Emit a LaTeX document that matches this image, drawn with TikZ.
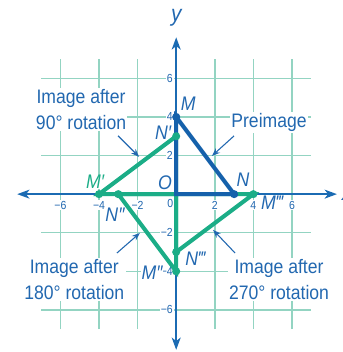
\documentclass[tikz,border=0pt]{standalone}
\usepackage{fontspec}
\usepackage{tikz}
\usetikzlibrary{arrows.meta}
\setmainfont{Liberation Sans}[FakeStretch=0.9]

\definecolor{gridgreen}{HTML}{93D4C2}
\definecolor{axisblue}{HTML}{1B6BB3}
\definecolor{preblue}{HTML}{1561AB}
\definecolor{imggreen}{HTML}{1BAD87}
\definecolor{textblue}{HTML}{2268B0}

\begin{document}
\begin{tikzpicture}[x=0.5cm,y=0.5cm,
    axis/.style={axisblue, line width=1.8pt, {Stealth[length=9pt,width=6.5pt,inset=2.5pt]}-{Stealth[length=9pt,width=6.5pt,inset=2.5pt]}},
    axlabel/.style={text=textblue, font=\fontsize{17}{20}\selectfont\itshape},
    tick/.style={text=textblue, fill=white, inner sep=0.6pt, font=\fontsize{8.6}{9}\selectfont},
    pre/.style={preblue, line width=3pt},
    img/.style={imggreen, line width=3pt},
    ptlabel/.style={text=textblue, fill=white, inner sep=0.3pt, font=\fontsize{14.5}{16}\selectfont\itshape},
    callout/.style={text=textblue, fill=white, align=center, inner sep=1pt, font=\fontsize{14.4}{19}\selectfont},
    pointer/.style={textblue, line width=0.8pt, -{Stealth[length=6pt,width=4.5pt]}}]
    \useasboundingbox (-9.13,-8.18) rectangle (8.64,10.06);

    \draw[gridgreen, line width=1.1pt] (-7,-7) grid (7,7);

    \node[callout] (rot90) at (-4.93,4.38) {Image after\\90° rotation};
    \node[callout] (pre) at (4.81,3.69) {Preimage};
    \node[callout] (rot180) at (-5.28,-4.42) {Image after\\180° rotation};
    \node[callout] (rot270) at (5.33,-4.42) {Image after\\270° rotation};

    \foreach \k/\t [count=\i] in {-6/−6,-4/−4,-2/−2,2/2,4/4,6/6} {
        \node[tick] (xtick\i) at (\k,-0.57) {\t};
        \node[tick, anchor=east] (ytick\i) at (-0.12,\k) {\t};
    }
    \node[tick] (xtick0) at (-0.3,-0.5) {0};

    \coordinate (O) at (0,0);
    \coordinate (M) at (0,4);
    \coordinate (N) at (3,0);
    \coordinate (Ma) at (-4,0);
    \coordinate (Na) at (0,3);
    \coordinate (Mb) at (0,-4);
    \coordinate (Nb) at (-3,0);
    \coordinate (Mc) at (4,0);
    \coordinate (Nc) at (0,-3);

    \node[ptlabel] (lM) at (0.63,4.67) {M};
    \node[ptlabel] (lNa) at (-0.68,3.17) {N′};
    \node[ptlabel] (lO) at (-0.58,0.58) {O};
    \node[ptlabel, text=imggreen] (lMa) at (-4.2,0.63) {M′};
    \node[ptlabel] (lNb) at (-3.17,-1.08) {N″};
    \node[ptlabel] (lN) at (3.46,0.74) {N};
    \node[ptlabel] (lMc) at (4.95,-0.45) {M‴};
    \node[ptlabel] (lNc) at (0.97,-3.36) {N‴};
    \node[ptlabel] (lMb) at (-1.25,-4.08) {M″};

    \coordinate (xmin) at (-8.24,0);
    \coordinate (xmax) at (8.33,0);
    \coordinate (ymin) at (0,-8.07);
    \coordinate (ymax) at (0,8.13);
    \draw[axis] (xmin) -- (xmax);
    \draw[axis] (ymin) -- (ymax);
    \node[axlabel] (xlab) at (8.85,0) {x};
    \node[axlabel] (ylab) at (0,9.12) {y};

    \draw[img] (Ma) -- (Na) -- (O) -- cycle;
    \draw[img] (Mb) -- (Nb) -- (O) -- cycle;
    \draw[img] (Mc) -- (Nc) -- (O) -- cycle;
    \draw[pre] (M) -- (N) -- (O) -- cycle;

    \foreach \p in {Ma,Na,Mb,Nb,Mc,Nc}
        \fill[imggreen] (\p) circle (0.21);
    \foreach \p in {M,N}
        \fill[preblue] (\p) circle (0.21);

    \coordinate (t90) at (-3.01,3.02);
    \coordinate (h90) at (-1.92,1.93);
    \coordinate (tpre) at (3.0,3.02);
    \coordinate (hpre) at (1.85,1.98);
    \coordinate (t180) at (-3.07,-3.05);
    \coordinate (h180) at (-1.88,-2.01);
    \coordinate (t270) at (3.05,-3.05);
    \coordinate (h270) at (1.91,-1.85);
    \draw[pointer] (t90) -- (h90);
    \draw[pointer] (tpre) -- (hpre);
    \draw[pointer] (t180) -- (h180);
    \draw[pointer] (t270) -- (h270);
\end{tikzpicture}
\end{document}
